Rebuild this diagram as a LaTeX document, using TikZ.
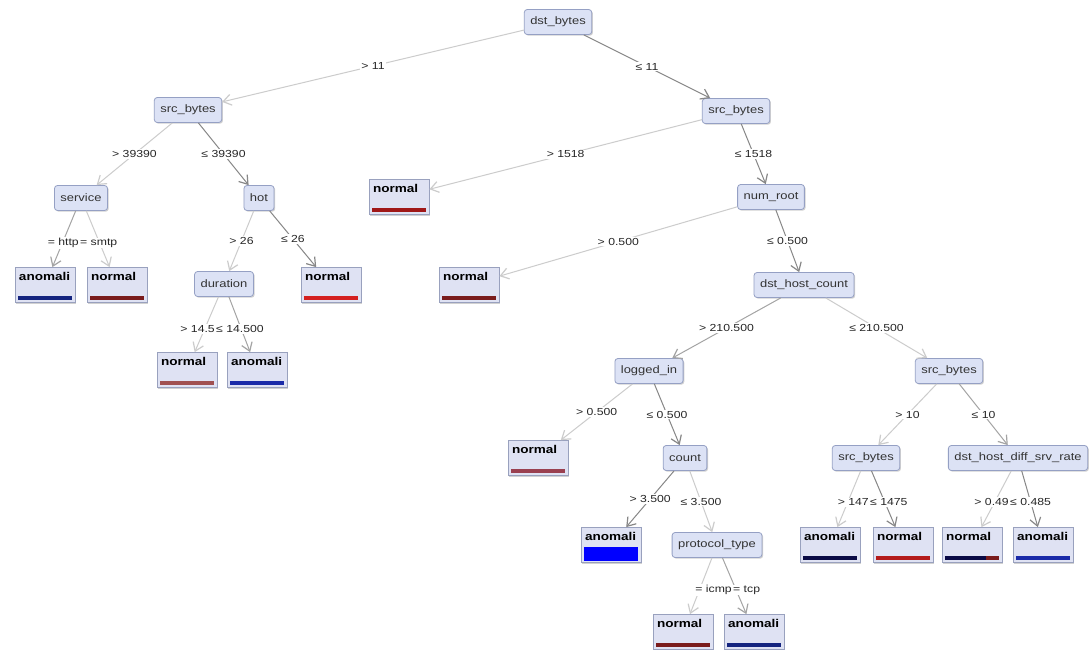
\documentclass[tikz,border=0pt]{standalone}
\usepackage{fontspec}
\setmainfont{Liberation Sans}[FakeStretch=1.2]
\usetikzlibrary{arrows.meta,shadows}
\definecolor{nodef}{HTML}{DCE2F5}
\definecolor{nodeb}{HTML}{95A0C4}
\definecolor{leaff}{HTML}{DFE2F3}
\definecolor{leafb}{HTML}{99A1BE}
\definecolor{elight}{HTML}{CCCCCC}
\definecolor{emid}{HTML}{A4A4A4}
\definecolor{edark}{HTML}{878787}
\definecolor{navy}{HTML}{14247F}
\definecolor{deepnavy}{HTML}{0A0A45}
\definecolor{dred}{HTML}{7A1C1C}
\definecolor{brred}{HTML}{D42020}
\definecolor{mred}{HTML}{A05050}
\definecolor{rred}{HTML}{A01818}
\definecolor{pred}{HTML}{9A4050}
\definecolor{bblue}{HTML}{1A2AA8}
\definecolor{pureblue}{HTML}{0000FF}
\begin{document}
\begin{tikzpicture}[x=1pt,y=-1pt,
  shade/.style={general shadow={fill=black!18, shadow xshift=1.2pt, shadow yshift=-1.2pt}},
  inner/.style={draw=nodeb, fill=nodef, rounded corners=3pt, minimum height=25pt,
    inner xsep=6pt, line width=0.8pt, text=black!80, shade,
    font=\fontsize{10.8}{12}\selectfont},
  leafbase/.style={draw=leafb, fill=leaff, text width=52pt, align=left,
    inner xsep=4pt, inner ysep=3pt, text height=9.5pt, text depth=19.5pt,
    line width=0.8pt, shade, font=\fontsize{11.3}{12}\bfseries\selectfont},
  leaf/.style={leafbase, path picture={\fill[#1]
    ([xshift=3pt,yshift=3pt]path picture bounding box.south west) rectangle
    ([xshift=-3pt,yshift=7pt]path picture bounding box.south east);}},
  bigleaf/.style={leafbase, path picture={\fill[#1]
    ([xshift=3pt,yshift=2pt]path picture bounding box.south west) rectangle
    ([xshift=-3pt,yshift=16pt]path picture bounding box.south east);}},
  e/.style={draw=#1, line width=1pt,
    -{Straight Barb[length=8pt,width=11pt,line width=1.2pt]}},
  lab/.style={fill=white, inner sep=1pt, text=black!85,
    font=\fontsize{10.2}{12}\selectfont}
]
\useasboundingbox[fill=white] (0,0) rectangle (1092,649);

% inner nodes
\node[inner] (root) at (558,22) {dst\_bytes};
\node[inner] (sbL) at (188,110) {src\_bytes};
\node[inner] (sbR) at (736,111) {src\_bytes};
\node[inner] (serv) at (81,198) {service};
\node[inner] (hot) at (259,198) {hot};
\node[inner] (dur) at (224,284) {duration};
\node[inner] (nroot) at (771,197) {num\_root};
\node[inner] (dhc) at (804,285) {dst\_host\_count};
\node[inner] (login) at (649,371) {logged\_in};
\node[inner] (sb3) at (949,371) {src\_bytes};
\node[inner] (cnt) at (685,458) {count};
\node[inner] (sb4) at (866,458) {src\_bytes};
\node[inner] (dhd) at (1018,458) {dst\_host\_diff\_srv\_rate};
\node[inner] (proto) at (717,545) {protocol\_type};

% leaves
\node[leaf=navy] (l1) at (45,285) {anomali};
\node[leaf=dred] (l2) at (117,285) {normal};
\node[leaf=brred] (l3) at (331,285) {normal};
\node[leaf=mred] (l4) at (187,370) {normal};
\node[leaf=bblue] (l5) at (257,370) {anomali};
\node[leaf=rred] (l6) at (399,197) {normal};
\node[leaf=dred] (l7) at (469,285) {normal};
\node[leaf=pred] (l8) at (538,458) {normal};
\node[bigleaf=pureblue] (l9) at (611,545) {anomali};
\node[leaf=dred] (l10) at (683,632) {normal};
\node[leaf=navy] (l11) at (754,632) {anomali};
\node[leaf=deepnavy] (l12) at (830,545) {anomali};
\node[leaf=brred!85!black] (l13) at (903,545) {normal};
\node[leafbase, path picture={
    \fill[deepnavy] ([xshift=3pt,yshift=3pt]path picture bounding box.south west) rectangle
      ([xshift=-16pt,yshift=7pt]path picture bounding box.south east);
    \fill[dred] ([xshift=-16pt,yshift=3pt]path picture bounding box.south east) rectangle
      ([xshift=-3pt,yshift=7pt]path picture bounding box.south east);}] (l14) at (972,545) {normal};
\node[leaf=bblue] (l15) at (1043,545) {anomali};

% edges
\draw[e=elight] (root) -- node[lab,midway] {> 11} (sbL);
\draw[e=edark] (root) -- node[lab,midway] {≤ 11} (sbR);
\draw[e=elight] (sbL) -- node[lab,midway] {> 39390} (serv);
\draw[e=edark] (sbL) -- node[lab,midway] {≤ 39390} (hot);
\draw[e=emid] (serv) -- (l1);
\draw[e=elight] (serv) -- (l2);
\draw[e=elight] (hot) -- node[lab,midway] {> 26} (dur);
\draw[e=edark] (hot) -- node[lab,midway] {≤ 26} (l3);
\draw[e=elight] (dur) -- (l4);
\draw[e=emid] (dur) -- (l5);
\draw[e=elight] (sbR) -- node[lab,midway] {> 1518} (l6);
\draw[e=edark] (sbR) -- node[lab,midway] {≤ 1518} (nroot);
\draw[e=elight] (nroot) -- node[lab,midway] {> 0.500} (l7);
\draw[e=edark] (nroot) -- node[lab,midway] {≤ 0.500} (dhc);
\draw[e=emid] (dhc) -- node[lab,midway] {> 210.500} (login);
\draw[e=elight] (dhc) -- node[lab,midway] {≤ 210.500} (sb3);
\draw[e=elight] (login) -- node[lab,midway] {> 0.500} (l8);
\draw[e=edark] (login) -- node[lab,midway] {≤ 0.500} (cnt);
\draw[e=edark] (cnt) -- node[lab,midway] {> 3.500} (l9);
\draw[e=elight] (cnt) -- node[lab,midway] {≤ 3.500} (proto);
\draw[e=elight] (proto) -- (l10);
\draw[e=emid] (proto) -- (l11);
\draw[e=elight] (sb3) -- node[lab,midway] {> 10} (sb4);
\draw[e=emid] (sb3) -- node[lab,midway] {≤ 10} (dhd);
\draw[e=elight] (sb4) -- (l12);
\draw[e=edark] (sb4) -- (l13);
\draw[e=elight] (dhd) -- (l14);
\draw[e=edark] (dhd) -- (l15);

% crowded edge labels
\node[lab, anchor=east] (t1) at (80,243) {= http};
\node[lab, anchor=west, inner xsep=0pt] (t2) at (80,243) {= smtp};
\node[lab, anchor=east] (t3) at (216,329) {> 14.5};
\node[lab, anchor=west, inner xsep=0pt] (t4) at (216,329) {≤ 14.500};
\node[lab, anchor=east] (t5) at (733,590) {= icmp};
\node[lab, anchor=west, inner xsep=0pt] (t6) at (733,590) {= tcp};
\node[lab, anchor=east] (t7) at (870,502) {> 147};
\node[lab, anchor=west, inner xsep=0pt] (t8) at (870,502) {≤ 1475};
\node[lab, anchor=east] (t9) at (1010,502) {> 0.49};
\node[lab, anchor=west, inner xsep=0pt] (t10) at (1010,502) {≤ 0.485};
\end{tikzpicture}
\end{document}
